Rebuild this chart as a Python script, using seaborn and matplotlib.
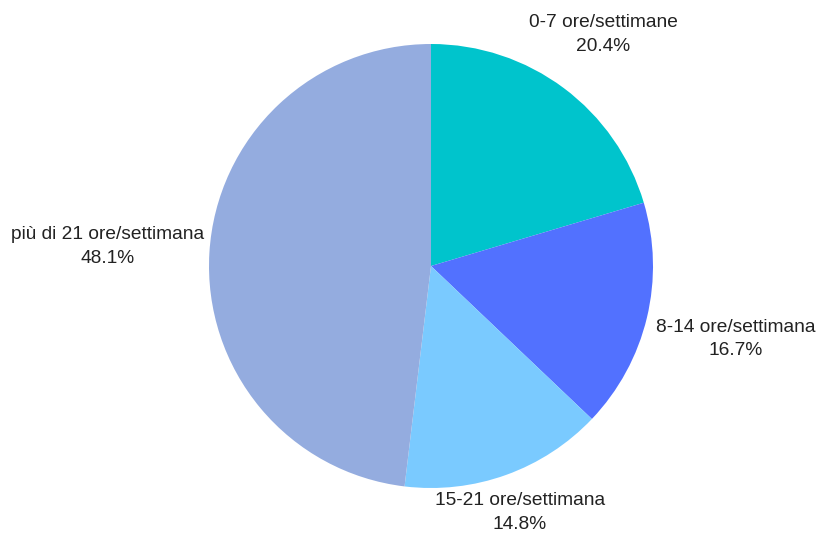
import numpy as np
import matplotlib
matplotlib.use("Agg")
import matplotlib.pyplot as plt
import seaborn as sns

categories = ["0-7 ore/settimane", "8-14 ore/settimana", "15-21 ore/settimana", "più di 21 ore/settimana"]
shares = [20.4, 16.7, 14.8, 48.1]
colors = ["#00C4CC", "#5271FF", "#7ACAFF", "#94ACDF"]
label_dist = [1.30, 1.41, 1.18, 1.46]

sns.set_theme(style="white")
plt.rcParams["font.family"] = ["Liberation Sans", "DejaVu Sans"]

W, H = 816, 535
fig = plt.figure(figsize=(W / 100, H / 100), dpi=100)
ax = fig.add_axes([0, 0, 1, 1])

cx, cy, r = 431, H - 266, 222
wedges, _ = ax.pie(shares, colors=colors, startangle=90, counterclock=False,
                   center=(cx, cy), radius=r, frame=True,
                   wedgeprops=dict(linewidth=0))
ax.set_xlim(0, W)
ax.set_ylim(0, H)
ax.set_aspect("equal")
ax.axis("off")

for w, cat, val, d in zip(wedges, categories, shares, label_dist):
    mid = np.deg2rad((w.theta1 + w.theta2) / 2)
    x = cx + r * d * np.cos(mid)
    y = cy + r * d * np.sin(mid)
    ax.text(x, y, f"{cat}\n{val:.1f}%", ha="center", va="center",
            fontsize=13.8, color="#222222", linespacing=1.5)

fig.savefig("out.png", dpi=100, facecolor="white")
